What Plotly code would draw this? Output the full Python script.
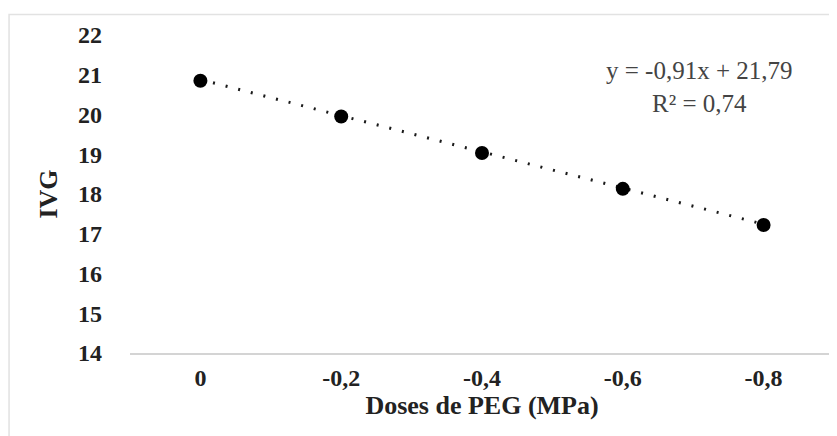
import plotly.graph_objects as go

categories = ["0", "-0,2", "-0,4", "-0,6", "-0,8"]
ivg = [20.85, 19.95, 19.03, 18.13, 17.22]
slope = -0.91
intercept = 21.79
y_ticks = [14, 15, 16, 17, 18, 19, 20, 21, 22]

trend = [slope * (i + 1) + intercept for i in range(len(categories))]

font_family = "Liberation Serif"

fig = go.Figure()
fig.add_trace(go.Scatter(
    x=categories, y=trend, mode="lines",
    line=dict(color="#1a1a1a", width=3, dash="2px,11px"),
    hoverinfo="skip", showlegend=False,
))
fig.add_trace(go.Scatter(
    x=categories, y=ivg, mode="markers",
    marker=dict(color="black", size=14),
    showlegend=False,
))

fig.add_annotation(
    x=0.809, y=0.835, xref="paper", yref="paper",
    xanchor="center", yanchor="middle",
    text="y = -0,91x + 21,79<br>R² = 0,74",
    showarrow=False, align="center",
    font=dict(family=font_family, size=25, color="#444444"),
)

fig.add_shape(type="rect", xref="paper", yref="paper",
              x0=-0.1718, x1=1.05, y0=-0.5, y1=1.0645,
              line=dict(color="#e2e2e2", width=1.5))

fig.update_layout(
    width=837, height=436,
    margin=dict(l=122, r=10.5, t=27, b=91, autoexpand=False),
    paper_bgcolor="white", plot_bgcolor="white",
    font=dict(family=font_family, color="#222222"),
    xaxis=dict(
        type="category", range=[-0.5, 4.5], automargin=False,
        showgrid=False, showline=True, linecolor="#d4d4d4", linewidth=2,
        ticks="", tickfont=dict(size=24, family=font_family, weight="bold"),
        ticklabelstandoff=2,
        title=dict(text="<b>Doses de PEG (MPa)</b>", font=dict(size=26, family=font_family), standoff=0),
        zeroline=False,
    ),
    yaxis=dict(
        range=[14, 22], tickvals=y_ticks, automargin=False,
        showgrid=False, showline=False, zeroline=False, ticks="",
        tickfont=dict(size=24, family=font_family, weight="bold"),
        ticklabelstandoff=27,
        title=dict(text="<b>IVG</b>", font=dict(size=26, family=font_family), standoff=12),
    ),
)

fig.write_html("out.html")
